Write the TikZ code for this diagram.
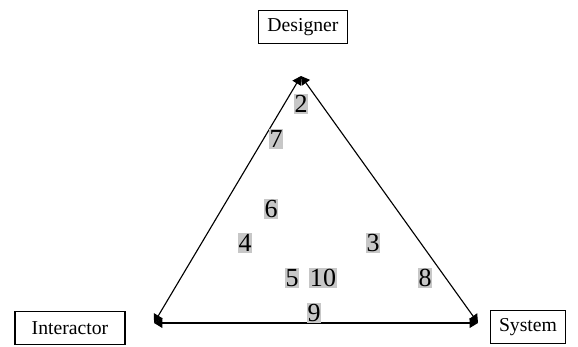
\documentclass[tikz,border=0pt]{standalone}
\usepackage{fontspec}
\setmainfont{Liberation Serif}
\usetikzlibrary{arrows.meta}

\begin{document}
\begin{tikzpicture}[x=0.025cm,y=-0.025cm,>={Triangle[width=7pt,length=6pt]}]
\tikzstyle{role}=[draw,thick,font=\fontsize{14}{16}\selectfont,inner xsep=6pt,minimum height=0.82cm]
\tikzstyle{num}=[fill=black!22,inner xsep=0.4pt,inner ysep=1.2pt,font=\fontsize{18.5}{20}\selectfont]
\useasboundingbox (0,0) rectangle (578,347);
\node[role,minimum width=2.22cm] (designer) at (303,27) {Designer};
\node[role,minimum width=2.75cm] (interactor) at (70,328) {Interactor};
\node[role,minimum width=1.75cm] (system) at (528,327) {System};
% corners of the triangle
\coordinate (top) at (301,76);
\coordinate (left) at (154,323);
\coordinate (right) at (478,323);
\draw[<->,thick] (top) -- (left);
\draw[<->,thick] (left) -- (right);
\draw[<->,thick] (right) -- (top);
\foreach \n/\x/\y in {2/301/104,7/276/139,6/271/209,4/245/243,3/373/243,5/292/278,10/323/278,8/425/278,9/314/313}
  \node[num] (n\n) at (\x,\y) {\n};
\end{tikzpicture}
\end{document}
